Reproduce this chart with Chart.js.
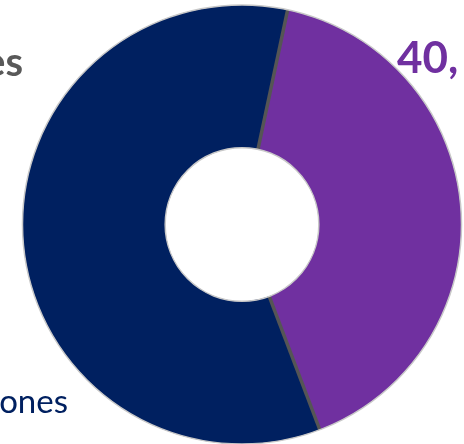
<!DOCTYPE html>
<html>
<head>
<meta charset="utf-8">
<script src="https://cdn.jsdelivr.net/npm/chart.js@4/dist/chart.umd.min.js"></script>
<style>
  html, body { margin: 0; padding: 0; background: #fff; overflow: hidden; }
  #wrap { position: relative; width: 464px; height: 444px; overflow: hidden; }
  canvas { position: absolute; left: 0; top: 0; }
  .lbl { position: absolute; font-family: Lato, "Open Sans", sans-serif; white-space: nowrap; line-height: 1; }
</style>
</head>
<body>
<div id="wrap">
  <canvas id="donut" width="464" height="444"></canvas>
  <div class="lbl" style="right:441px; top:41px; font-size:40px; font-weight:700; color:#595959; text-align:right;">es</div>
  <div class="lbl" style="left:397px; top:34px; font-size:44px; font-weight:700; color:#7030a0;">40,</div>
  <div class="lbl" style="right:396px; top:384px; font-size:33px; color:#002060; text-align:right;">ones</div>
</div>
<script>
const labels = ['Purple', 'Navy'];
const values = [40.9, 59.1];
const colors = ['#7030a0', '#002060'];

// separator lines and light edge, taken from the arc elements
const edges = {
    id: 'edges',
    afterDatasetsDraw(chart) {
        const c = chart.ctx;
        const arcs = chart.getDatasetMeta(0).data;
        c.save();
        arcs.forEach(a => {
            const p = a.getProps(['x', 'y', 'startAngle', 'innerRadius', 'outerRadius']);
            c.beginPath();
            c.moveTo(p.x + Math.cos(p.startAngle) * p.innerRadius, p.y + Math.sin(p.startAngle) * p.innerRadius);
            c.lineTo(p.x + Math.cos(p.startAngle) * p.outerRadius, p.y + Math.sin(p.startAngle) * p.outerRadius);
            c.strokeStyle = '#555555';
            c.lineWidth = 3.5;
            c.stroke();
        });
        const p = arcs[0].getProps(['x', 'y', 'innerRadius', 'outerRadius']);
        c.strokeStyle = '#c8c8c8';
        c.lineWidth = 1.5;
        c.beginPath();
        c.arc(p.x, p.y, p.outerRadius, 0, Math.PI * 2);
        c.stroke();
        c.beginPath();
        c.arc(p.x, p.y, p.innerRadius, 0, Math.PI * 2);
        c.stroke();
        c.restore();
    }
};

new Chart(document.getElementById('donut'), {
    type: 'doughnut',
    data: {
        labels: labels,
        datasets: [{
            data: values,
            backgroundColor: colors,
            borderWidth: 0
        }]
    },
    options: {
        responsive: false,
        animation: false,
        rotation: 12,
        cutout: '35%',
        layout: { padding: { left: 22, right: 2, top: 5, bottom: 0 } },
        plugins: {
            legend: { display: false },
            tooltip: { enabled: false }
        }
    },
    plugins: [edges]
});
</script>
</body>
</html>
